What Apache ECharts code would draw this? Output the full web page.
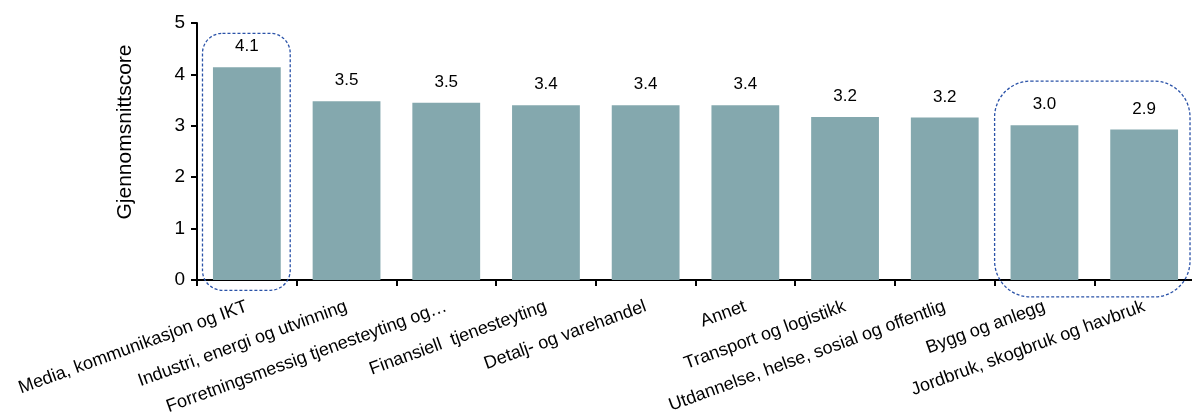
<!DOCTYPE html>
<html>
<head>
<meta charset="utf-8">
<script src="https://cdn.jsdelivr.net/npm/echarts@6/dist/echarts.min.js"></script>
<style>
html,body{margin:0;padding:0;background:#fff;}
#c{width:1192px;height:412px;}
</style>
</head>
<body>
<div id="c"></div>
<script>
const categories = [
  "Media, kommunikasjon og IKT",
  "Industri, energi og utvinning",
  "Forretningsmessig tjenesteyting og\u2026",
  "Finansiell  tjenesteyting",
  "Detalj- og varehandel",
  "Annet",
  "Transport og logistikk",
  "Utdannelse, helse, sosial og offentlig",
  "Bygg og anlegg",
  "Jordbruk, skogbruk og havbruk"
];
const scores = [4.14, 3.48, 3.45, 3.40, 3.40, 3.40, 3.17, 3.16, 3.01, 2.93];
const yTicks = [0, 1, 2, 3, 4, 5];
const yName = "Gjennomsnittscore";
// highlighted groups: [first category index, last category index]
const highlights = [[0, 0], [8, 9]];

const chart = echarts.init(document.getElementById('c'), null, {renderer: 'canvas'});
const FONT = '"Liberation Sans", Arial, sans-serif';

chart.setOption({
  animation: false,
  grid: {left: 197, top: 23, width: 997, height: 257, containLabel: false, outerBoundsMode: 'none'},
  xAxis: {
    type: 'category',
    data: categories,
    axisLine: {lineStyle: {color: '#000', width: 2}},
    axisTick: {show: true, length: 6, lineStyle: {color: '#000', width: 2}, alignWithLabel: false},
    axisLabel: {
      interval: 0, rotate: 20, margin: 26,
      color: '#000', fontSize: 18, fontFamily: FONT
    },
    splitLine: {show: false}
  },
  yAxis: {
    type: 'value',
    min: yTicks[0], max: yTicks[yTicks.length - 1], interval: 1,
    axisLine: {show: true, lineStyle: {color: '#000', width: 2}},
    axisTick: {show: true, length: 6, lineStyle: {color: '#000', width: 2}},
    axisLabel: {color: '#000', fontSize: 19, fontFamily: FONT, margin: 12},
    splitLine: {show: false}
  },
  series: [{
    type: 'bar',
    data: scores,
    barWidth: '68%',
    itemStyle: {color: '#84a8ae'},
    label: {
      show: true, position: 'top', distance: 12,
      color: '#000', fontSize: 17, fontFamily: FONT,
      formatter: p => p.value.toFixed(1)
    }
  }]
});

function drawAnnotations() {
  const band = chart.convertToPixel({xAxisIndex: 0}, categories[1]) - chart.convertToPixel({xAxisIndex: 0}, categories[0]);
  const boxes = [
    {g: highlights[0], yTop: 4.8, yBot: -0.2, padL: 0.445, padR: 0.435, r: 20},
    {g: highlights[1], yTop: 3.87, yBot: -0.33, padL: 0.5, padR: 0.46, r: 36}
  ];
  const elements = boxes.map(b => {
    const x0 = chart.convertToPixel({xAxisIndex: 0}, categories[b.g[0]]) - b.padL * band;
    const x1 = chart.convertToPixel({xAxisIndex: 0}, categories[b.g[1]]) + b.padR * band;
    const y0 = chart.convertToPixel({yAxisIndex: 0}, b.yTop);
    const y1 = chart.convertToPixel({yAxisIndex: 0}, b.yBot);
    return {
      type: 'rect', z: 100,
      shape: {x: x0, y: y0, width: x1 - x0, height: y1 - y0, r: b.r},
      style: {fill: 'none', stroke: '#2a52a8', lineWidth: 1.3, lineDash: [3, 2]}
    };
  });
  elements.push({
    type: 'text', x: 125, y: 132, rotation: Math.PI / 2,
    style: {text: yName, font: '21px "Liberation Sans", Arial, sans-serif', fill: '#000', textAlign: 'center', textVerticalAlign: 'middle'}
  });
  chart.setOption({graphic: elements});
}
drawAnnotations();
</script>
</body>
</html>
